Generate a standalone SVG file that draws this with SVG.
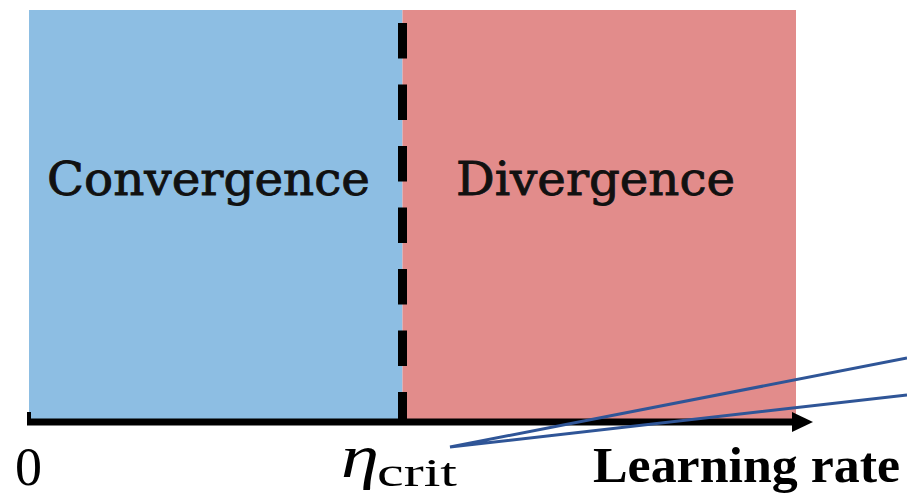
<svg xmlns="http://www.w3.org/2000/svg" width="907" height="496" viewBox="0 0 907 496">
  <defs>
    <style>
      .region-label { font-family: "DejaVu Serif", "Liberation Serif", serif; font-size: 47px; fill: #111; stroke: #111; stroke-width: 0.9; }
      .tick-label { font-family: "Liberation Serif", "DejaVu Serif", serif; fill: #000; }
      .axis { stroke: #000; stroke-width: 7; fill: none; }
      .pointer { stroke: #2F5597; stroke-width: 3; fill: none; }
    </style>
  </defs>
  <rect width="907" height="496" fill="#ffffff"/>

  <!-- convergent region -->
  <g id="convergence">
    <rect x="29" y="10" width="373.5" height="409" fill="#8DBEE3"/>
    <text class="region-label" x="47" y="195" textLength="323" lengthAdjust="spacingAndGlyphs">Convergence</text>
  </g>

  <!-- divergent region -->
  <g id="divergence">
    <rect x="402.5" y="10" width="393.5" height="409" fill="#E28C8B"/>
    <text class="region-label" x="456" y="195" textLength="279" lengthAdjust="spacingAndGlyphs">Divergence</text>
  </g>

  <!-- critical learning rate boundary -->
  <g id="threshold">
    <line x1="402.5" y1="23" x2="402.5" y2="422" stroke="#000" stroke-width="9" stroke-dasharray="35.5 26"/>
  </g>

  <!-- horizontal axis -->
  <g id="axis">
    <line class="axis" x1="27" y1="422" x2="795" y2="422"/>
    <line x1="29" y1="412" x2="29" y2="422" stroke="#000" stroke-width="4"/>
    <polygon points="792,412 813,422 792,432" fill="#000"/>
  </g>

  <!-- axis labels -->
  <g id="label-zero">
    <text class="tick-label" x="15" y="485" font-size="54">0</text>
  </g>
  <g id="label-eta">
    <text class="tick-label" x="341" y="477" font-size="62" font-style="italic" textLength="38" lengthAdjust="spacingAndGlyphs">η</text>
    <text class="tick-label" x="377" y="486" font-size="40" textLength="80" lengthAdjust="spacingAndGlyphs">crit</text>
  </g>
  <g id="label-rate">
    <text class="tick-label" x="593" y="482" font-size="51" font-weight="bold" textLength="307" lengthAdjust="spacingAndGlyphs">Learning rate</text>
  </g>

  <!-- callout lines -->
  <g id="connectors">
    <polyline class="pointer" points="907,358 450,447 907,395"/>
  </g>
</svg>
